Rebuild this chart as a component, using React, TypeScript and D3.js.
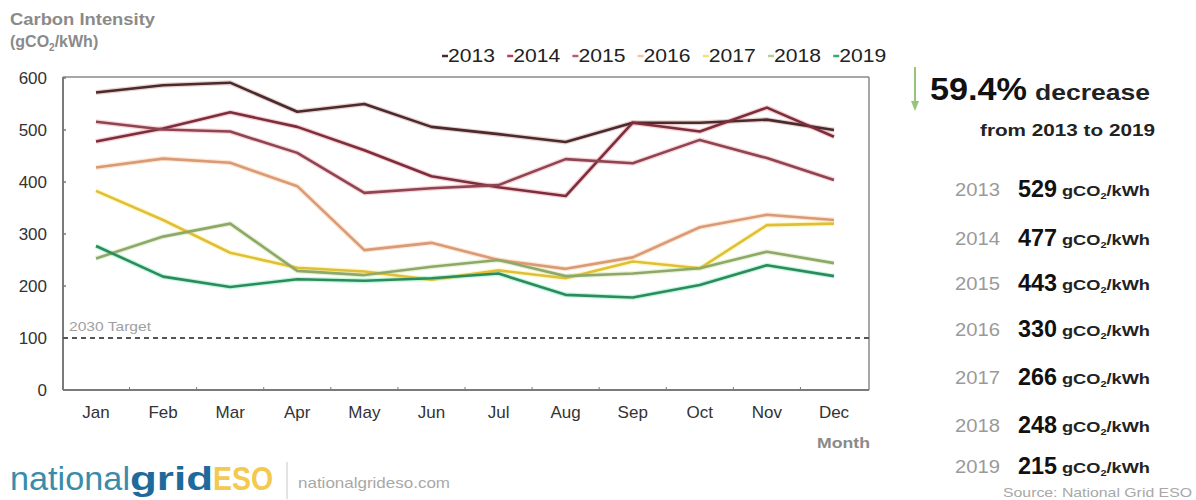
import React from "react";
import * as d3 from "d3";

const months = ["Jan", "Feb", "Mar", "Apr", "May", "Jun", "Jul", "Aug", "Sep", "Oct", "Nov", "Dec"];
const years = ["2013", "2014", "2015", "2016", "2017", "2018", "2019"];
const v2013 = [572, 586, 591, 535, 550, 506, 492, 477, 514, 514, 520, 500];
const v2014 = [478, 503, 534, 506, 461, 411, 390, 373, 514, 497, 543, 487];
const v2015 = [516, 501, 497, 456, 379, 388, 394, 444, 436, 481, 446, 404];
const v2016 = [428, 445, 437, 392, 269, 283, 250, 233, 255, 313, 337, 327];
const v2017 = [383, 327, 264, 235, 228, 212, 230, 215, 247, 234, 317, 320];
const v2018 = [253, 295, 320, 229, 221, 237, 250, 219, 224, 234, 266, 244];
const v2019 = [277, 218, 198, 213, 210, 215, 224, 183, 178, 202, 240, 219];
const yTicks = [0, 100, 200, 300, 400, 500, 600];
const annual = [529, 477, 443, 330, 266, 248, 215];
const target = 100;

const seriesValues = [v2013, v2014, v2015, v2016, v2017, v2018, v2019];
const lineColors = ["#4b2a2c", "#7a2f3c", "#8e4552", "#d99a78", "#e0bf38", "#8fa86a", "#2e8a5e"];
const glowColors = ["#c89a9a", "#f09098", "#f0a0a8", "#ffc898", "#fff080", "#c8e4a8", "#70f0b0"];
const legendColors = ["#4b2a2c", "#a84458", "#bb5c6c", "#efc6a8", "#f3e078", "#b6cf98", "#3aa676"];

const FONT = "'Liberation Sans', Arial, sans-serif";

export default function App() {
  const x = d3.scaleLinear().domain([0, 11]).range([96, 834]);
  const y = d3.scaleLinear().domain([0, 600]).range([390, 78]);
  const line = d3
    .line<number>()
    .x((_, i) => x(i))
    .y((d) => y(d));

  const plotL = 63, plotR = 869, plotT = 77, plotB = 390;
  const rowY = [189, 238, 283, 329, 377, 425, 466];

  return (
    <svg width={1196} height={500} style={{ position: "absolute", left: 0, top: 0, background: "#fff" }} fontFamily={FONT}>
      <rect x={0} y={0} width={1196} height={500} fill="#fff" />
      {/* Title */}
      <text x={10} y={25} fontSize={16} fontWeight="bold" fill="#8a8a8a" textLength={145} lengthAdjust="spacingAndGlyphs">Carbon Intensity</text>
      <text x={10} y={47} fontSize={16} fontWeight="bold" fill="#8a8a8a">
        (gCO<tspan fontSize={10} dy={4}>2</tspan><tspan dy={-4}>/kWh)</tspan>
      </text>

      {/* Legend */}
      {years.map((yr, i) => (
        <g key={yr} transform={`translate(${441 + i * 65.2},0)`}>
          <line x1={1} x2={7} y1={56} y2={56} stroke={legendColors[i]} strokeWidth={2.5} />
          <text x={7} y={62} fontSize={19} fill="#222" textLength={47} lengthAdjust="spacingAndGlyphs">{yr}</text>
        </g>
      ))}

      {/* Frame */}
      <line x1={plotL} x2={plotR} y1={plotT} y2={plotT} stroke="#8a8a8a" strokeWidth={1.5} />
      <line x1={plotR} x2={plotR} y1={plotT} y2={plotB} stroke="#8a8a8a" strokeWidth={1.5} />
      <line x1={plotL} x2={plotL} y1={plotT} y2={plotB} stroke="#7a7a7a" strokeWidth={2} />
      <line x1={plotL} x2={plotR} y1={plotB} y2={plotB} stroke="#7a7a7a" strokeWidth={2} />

      {/* Y ticks */}
      {yTicks.map((t) => (
        <g key={t}>
          <line x1={plotL} x2={plotL + 3} y1={y(t)} y2={y(t)} stroke="#7a7a7a" strokeWidth={1.5} />
          <text x={47} y={y(t) + 6} fontSize={17} textAnchor="end" fill="#333">{t}</text>
        </g>
      ))}

      {/* X ticks */}
      {months.map((m, i) => (
        <g key={m}>
          {i < 11 && (
            <line x1={x(i + 0.5)} x2={x(i + 0.5)} y1={plotB} y2={plotB - 3} stroke="#7a7a7a" strokeWidth={1} />
          )}
          <text x={x(i)} y={418} fontSize={17} textAnchor="middle" fill="#333">{m}</text>
        </g>
      ))}
      <text x={817} y={448} fontSize={15} fontWeight="bold" fill="#8a8a8a" textLength={53} lengthAdjust="spacingAndGlyphs">Month</text>

      {/* Target */}
      <line x1={plotL} x2={plotR} y1={y(target)} y2={y(target)} stroke="#555" strokeWidth={1.8} strokeDasharray="5,4" />
      <text x={69} y={331} fontSize={13} fill="#a0a0a0" textLength={82} lengthAdjust="spacingAndGlyphs">2030 Target</text>

      {/* Lines */}
      {seriesValues.map((vals, i) => (
        <path key={"g" + i} d={line(vals) || ""} fill="none" stroke={glowColors[i]} strokeWidth={5} strokeOpacity={0.45} strokeLinejoin="round" />
      ))}
      {seriesValues.map((vals, i) => (
        <path key={"l" + i} d={line(vals) || ""} fill="none" stroke={lineColors[i]} strokeWidth={2.6} strokeLinejoin="round" />
      ))}

      {/* Right panel */}
      <line x1={915} x2={915} y1={67} y2={106} stroke="#96c47a" strokeWidth={2} />
      <path d="M911,101 L915,111 L919,101 Z" fill="#96c47a" />
      <text x={930} y={100} fontSize={31} fontWeight="bold" fill="#111" textLength={97} lengthAdjust="spacingAndGlyphs">59.4%</text>
      <text x={1035} y={100} fontSize={22} fontWeight="bold" fill="#222" textLength={115} lengthAdjust="spacingAndGlyphs">decrease</text>
      <text x={980} y={136} fontSize={17} fontWeight="bold" fill="#222" textLength={175} lengthAdjust="spacingAndGlyphs">from 2013 to 2019</text>

      {years.map((yr, i) => {
        const cy = rowY[i];
        return (
          <g key={"r" + yr}>
            <text x={955} y={cy + 7} fontSize={18} fill="#9a9a9a" textLength={45} lengthAdjust="spacingAndGlyphs">{yr}</text>
            <text x={1018} y={cy + 8} fontSize={23} fontWeight="bold" fill="#111" textLength={39} lengthAdjust="spacingAndGlyphs">{annual[i]}</text>
            <text x={1062} y={cy + 7} fontSize={15} fontWeight="bold" fill="#222" textLength={88} lengthAdjust="spacingAndGlyphs">
              gCO<tspan fontSize={9} dy={3}>2</tspan><tspan dy={-3}>/kWh</tspan>
            </text>
          </g>
        );
      })}
      <text x={1003} y={497} fontSize={13} fill="#a8a8a8" textLength={189} lengthAdjust="spacingAndGlyphs">Source: National Grid ESO</text>

      {/* Logo */}
      <text x={10} y={490} fontSize={34} fill="#3a8caa" textLength={120} lengthAdjust="spacingAndGlyphs">national</text>
      <text x={130} y={490} fontSize={34} fontWeight="bold" fill="#1f6a9a" textLength={83} lengthAdjust="spacingAndGlyphs">grid</text>
      <text x={213} y={490} fontSize={34} fontWeight="bold" fill="#f3c94f" textLength={60} lengthAdjust="spacingAndGlyphs">ESO</text>
      <line x1={287} x2={287} y1={462} y2={499} stroke="#c8c8c8" strokeWidth={1} />
      <text x={298} y={488} fontSize={15} fill="#a8a8a8" textLength={152} lengthAdjust="spacingAndGlyphs">nationalgrideso.com</text>
    </svg>
  );
}
